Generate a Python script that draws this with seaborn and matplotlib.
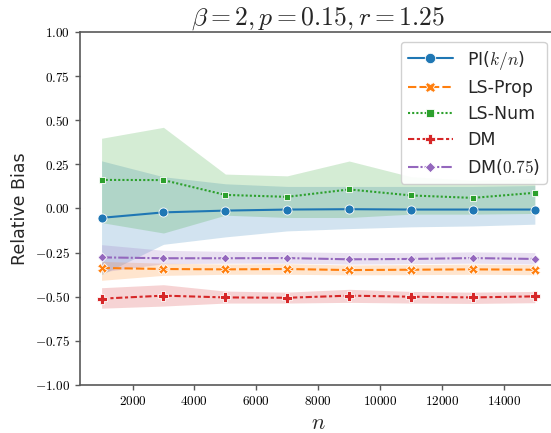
import numpy as np
import pandas as pd
import matplotlib
matplotlib.use('Agg')
import matplotlib.pyplot as plt
from matplotlib.ticker import FuncFormatter
import seaborn as sns

n_values = [1000, 3000, 5000, 7000, 9000, 11000, 13000, 15000]
methods = ['PI($k/n$)', 'LS-Prop', 'LS-Num', 'DM', 'DM($0.75$)']

# mean relative bias per method
pi_mean = [-0.053, -0.022, -0.012, -0.006, -0.004, -0.006, -0.006, -0.006]
ls_prop_mean = [-0.337, -0.343, -0.345, -0.343, -0.349, -0.347, -0.345, -0.347]
ls_num_mean = [0.162, 0.161, 0.077, 0.066, 0.108, 0.074, 0.060, 0.089]
dm_mean = [-0.511, -0.494, -0.504, -0.506, -0.494, -0.500, -0.504, -0.498]
dm75_mean = [-0.277, -0.282, -0.282, -0.281, -0.288, -0.286, -0.281, -0.286]

# lower / upper band edges
pi_low = [-0.375, -0.203, -0.161, -0.127, -0.114, -0.104, -0.099, -0.089]
pi_high = [0.27, 0.18, 0.14, 0.125, 0.125, 0.125, 0.125, 0.13]
ls_prop_low = [-0.407, -0.379, -0.373, -0.373, -0.376, -0.375, -0.373, -0.375]
ls_prop_high = [-0.30, -0.31, -0.315, -0.313, -0.32, -0.318, -0.315, -0.318]
ls_num_low = [-0.08, -0.139, -0.038, -0.051, -0.051, -0.032, -0.032, -0.028]
ls_num_high = [0.398, 0.46, 0.195, 0.185, 0.269, 0.18, 0.16, 0.17]
dm_low = [-0.565, -0.553, -0.536, -0.536, -0.532, -0.536, -0.538, -0.534]
dm_high = [-0.449, -0.432, -0.468, -0.474, -0.458, -0.47, -0.474, -0.47]
dm75_low = [-0.36, -0.313, -0.31, -0.31, -0.315, -0.313, -0.31, -0.315]
dm75_high = [-0.205, -0.237, -0.243, -0.245, -0.25, -0.25, -0.246, -0.25]

means = [pi_mean, ls_prop_mean, ls_num_mean, dm_mean, dm75_mean]
lows = [pi_low, ls_prop_low, ls_num_low, dm_low, dm75_low]
highs = [pi_high, ls_prop_high, ls_num_high, dm_high, dm75_high]

rows = []
for m, vals in zip(methods, means):
    for n, v in zip(n_values, vals):
        rows.append([m, n, v])
df = pd.DataFrame(rows, columns=['method', 'n', 'bias'])

sns.set_style('ticks')
plt.rcParams['mathtext.fontset'] = 'cm'
plt.rcParams['axes.edgecolor'] = '.35'
plt.rcParams['xtick.color'] = '.35'
plt.rcParams['ytick.color'] = '.35'
plt.rcParams['xtick.labelcolor'] = 'black'
plt.rcParams['ytick.labelcolor'] = 'black'

fig = plt.figure(figsize=(5.51, 4.33), dpi=100)
ax = fig.add_axes([0.145, 0.111, 0.865, 0.815])

palette = sns.color_palette('tab10', 5)
for i, m in enumerate(methods):
    ax.fill_between(n_values, lows[i], highs[i], color=palette[i], alpha=0.2, linewidth=0)

sns.lineplot(data=df, x='n', y='bias', hue='method', style='method',
             hue_order=methods, style_order=methods, palette=palette,
             markers=True, dashes=True, markersize=6.5, markeredgewidth=0.6,
             linewidth=1.5, ax=ax)

leg = ax.get_legend()
handles = leg.legend_handles
labels = [t.get_text() for t in leg.get_texts()]
for h in handles:
    h.set_markersize(7.5)
ax.legend(handles, labels, loc='upper right', fontsize=12.5, framealpha=0.9,
          handlelength=2.6, labelspacing=0.45, borderaxespad=0.55)

ax.set_ylim(-1.0, 1.0)
ax.set_yticks(np.arange(-1.0, 1.01, 0.25))
ax.set_xticks(range(2000, 15000, 2000))
ax.yaxis.set_major_formatter(FuncFormatter(lambda v, p: '$%.2f$' % v))
ax.xaxis.set_major_formatter(FuncFormatter(lambda v, p: '$%d$' % v))
ax.tick_params(labelsize=9.5, length=3.5, width=1.0)
for s in ax.spines.values():
    s.set_linewidth(1.2)

ax.set_xlabel('$n$', fontsize=16)
ax.set_ylabel('Relative Bias', fontsize=12.5)
ax.set_title(r'$\beta = 2, p = 0.15, r = 1.25$', fontsize=18.5, pad=5)

fig.savefig('out.png', dpi=100)
